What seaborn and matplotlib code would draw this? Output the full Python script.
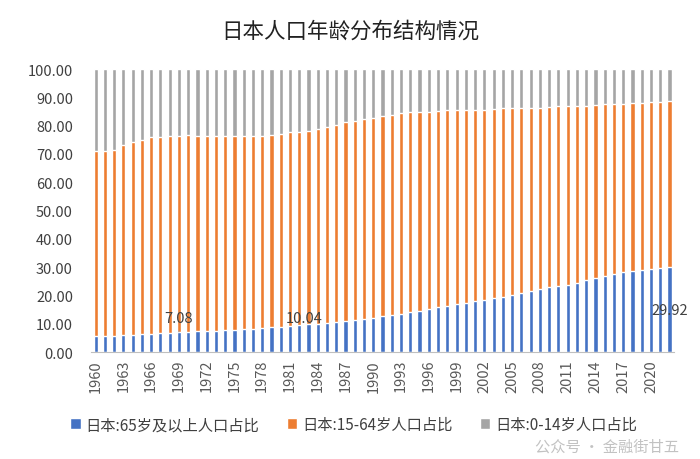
import numpy as np
import pandas as pd
import seaborn as sns
import matplotlib.pyplot as plt
from matplotlib.ticker import FixedLocator

# -------------------------------
# Data
# -------------------------------
years = list(range(1960, 2023))

# 日本:65岁及以上人口占比 (%)
share_65 = [5.6, 5.7, 5.8, 5.9, 6.1, 6.2, 6.4, 6.6, 6.8, 7.08,
            7.1, 7.3, 7.4, 7.6, 7.8, 7.9, 8.1, 8.3, 8.5, 8.8,
            9.0, 9.2, 9.5, 9.8, 10.04, 10.3, 10.6, 10.9, 11.3, 11.7,
            12.1, 12.6, 13.1, 13.6, 14.1, 14.6, 15.2, 15.8, 16.3, 16.8,
            17.4, 17.9, 18.5, 19.1, 19.6, 20.2, 20.9, 21.6, 22.3, 22.9,
            23.3, 23.7, 24.4, 25.3, 26.3, 27.0, 27.6, 28.2, 28.6, 28.9,
            29.3, 29.6, 29.92]

# 日本:0-14岁人口占比 (%)
share_0_14 = [28.9, 28.9, 28.5, 26.9, 25.9, 25.0, 24.1, 24.0, 23.8, 23.8,
              23.4, 23.5, 23.7, 23.7, 23.8, 23.8, 23.8, 23.8, 23.6, 23.3,
              23.0, 22.4, 22.1, 21.8, 21.2, 20.6, 19.8, 18.8, 18.3, 17.7,
              17.2, 16.7, 16.1, 15.5, 15.1, 15.1, 15.0, 14.7, 14.4, 14.4,
              14.4, 14.4, 14.4, 14.1, 13.9, 13.7, 13.7, 13.8, 13.7, 13.4,
              13.2, 13.0, 13.0, 12.9, 12.7, 12.5, 12.4, 12.3, 12.0, 11.9,
              11.8, 11.7, 11.4]

# 日本:15-64岁人口占比 (%)
share_15_64 = [round(100 - a - c, 2) for a, c in zip(share_65, share_0_14)]

labels = ["日本:65岁及以上人口占比", "日本:15-64岁人口占比", "日本:0-14岁人口占比"]
colors = ["#4472C4", "#ED7D31", "#A5A5A5"]

# years that carry a data label
label_years = [1969, 1984, 2022]

df = pd.DataFrame({"year": [str(y) for y in years],
                   "s65": share_65,
                   "s15": share_15_64,
                   "s0": share_0_14})
df["top15"] = df["s65"] + df["s15"]
df["top0"] = df["top15"] + df["s0"]

# -------------------------------
# Plot
# -------------------------------
sns.set_style("white")
plt.rcParams["font.family"] = ["Noto Sans CJK SC", "DejaVu Sans"]

fig = plt.figure(figsize=(7, 4.6), dpi=100)
ax = fig.add_axes([0.130, 0.2326, 0.833, 0.615])

# stacked bars: draw cumulative totals from tallest to shortest
for col, colr, lab in [("top0", colors[2], labels[2]),
                       ("top15", colors[1], labels[1]),
                       ("s65", colors[0], labels[0])]:
    sns.barplot(data=df, x="year", y=col, color=colr, width=0.45,
                saturation=1, label=lab, ax=ax)

ax.set_xlim(-0.5, len(years) - 0.5)
ax.set_ylim(0, 100)
ax.set_yticks(np.arange(0, 101, 10))
ax.set_yticklabels([f"{v:.2f}" for v in np.arange(0, 101, 10)],
                   fontsize=10.5, color="#404040")

# year labels every 3 categories, tick marks at category boundaries
major = list(range(0, len(years), 3))
ax.set_xticks(major)
ax.set_xticklabels([str(years[i]) for i in major], rotation=90,
                   fontsize=10.5, color="#595959")
ax.xaxis.set_minor_locator(FixedLocator([i - 0.5 for i in major] + [len(years) - 0.5]))
ax.tick_params(axis="x", which="major", length=0, pad=5)
ax.tick_params(axis="x", which="minor", length=4, color="#bfbfbf", width=0.8)
ax.tick_params(axis="y", length=0, pad=13)

ax.set_xlabel("")
ax.set_ylabel("")
for s in ["top", "right", "left"]:
    ax.spines[s].set_visible(False)
ax.spines["bottom"].set_color("#bfbfbf")
ax.spines["bottom"].set_linewidth(0.8)

# data labels
idx = {y: i for i, y in enumerate(years)}
i = idx[label_years[0]]
ax.annotate(f"{share_65[i]:.2f}", xy=(i, share_65[i]), xytext=(0, 5),
            textcoords="offset points", ha="center", va="bottom",
            fontsize=10.5, color="#404040",
            arrowprops=dict(arrowstyle="-", color="#a6a6a6", lw=0.8))
i = idx[label_years[1]]
ax.annotate(f"{share_65[i]:.2f}", xy=(i, share_65[i]), xytext=(-10, 4),
            textcoords="offset points", ha="center", va="center",
            fontsize=10.5, color="#404040")
i = idx[label_years[2]]
ax.text(i, share_65[i] / 2, f"{share_65[i]:.2f}", ha="center", va="center",
        fontsize=10.5, color="#404040")

fig.text(0.5, 0.932, "日本人口年龄分布结构情况", ha="center", va="center",
         fontsize=15.5, color="#222222")

# legend in series order, below the chart
handles, hl = ax.get_legend_handles_labels()
ax.get_legend().remove()
order = [hl.index(l) for l in labels]
fig.legend([handles[k] for k in order], [hl[k] for k in order],
           loc="center", bbox_to_anchor=(0.505, 0.075), ncol=3,
           frameon=False, fontsize=11, handlelength=0.7, handleheight=0.7,
           columnspacing=1.8, handletextpad=0.3, labelcolor="#404040")

# watermark
fig.text(0.97, 0.028, "公众号 · 金融街甘五", ha="right", va="center",
         fontsize=11, color="#9a9a9a", alpha=0.6)

fig.savefig("out.png", dpi=100)
plt.close(fig)
